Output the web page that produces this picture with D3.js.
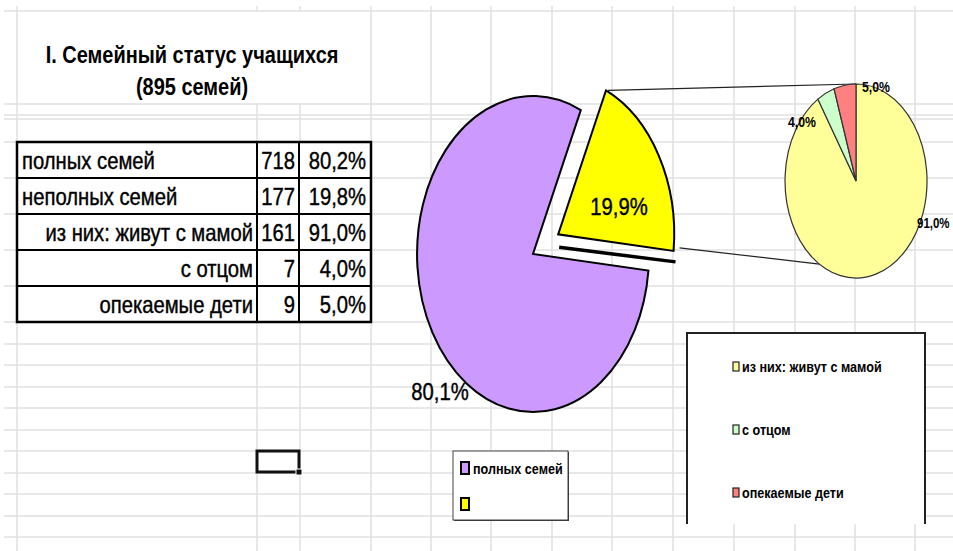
<!DOCTYPE html>
<html>
<head>
<meta charset="utf-8">
<script src="https://cdn.jsdelivr.net/npm/d3@7"></script>
<style>
  body { margin: 0; background: #fff; }
  text { font-family: "Liberation Sans", Arial, sans-serif; fill: #000; }
</style>
</head>
<body>
<div id="chart"></div>
<script>
// table data
var tableLabels = ["полных семей", "неполных семей", "из них: живут с мамой", "с отцом", "опекаемые дети"];
var tableCounts = [718, 177, 161, 7, 9];
var tablePercents = ["80,2%", "19,8%", "91,0%", "4,0%", "5,0%"];

// main pie
var mainCategories = ["полных семей", ""];
var mainValues = [80.1, 19.9];
var mainLabels = ["80,1%", "19,9%"];

// second pie (split of the yellow slice)
var subCategories = ["из них: живут с мамой", "с отцом", "опекаемые дети"];
var subValues = [91.0, 4.0, 5.0];
var subLabels = ["91,0%", "4,0%", "5,0%"];

var W = 953, H = 551;
var svg = d3.select("#chart").append("svg")
    .attr("width", W)
    .attr("height", H);

// narrow text: liberation sans squeezed horizontally (no Arial Narrow here)
function ntext(parent, x, y, str, size, anchor, bold, squeeze) {
    var g = parent.append("g")
        .attr("transform", "translate(" + x + "," + y + ") scale(" + (squeeze || 0.88) + ",1)");
    return g.append("text")
        .attr("text-anchor", anchor || "start")
        .style("font-size", size + "px")
        .style("font-weight", bold ? "bold" : "normal")
        .text(str);
}

// spreadsheet grid
var rowLines = [11, 104, 115, 119, 142, 178, 214, 250, 286, 322, 344, 365, 387, 408, 430, 451, 473, 494, 516, 537];
var colLines = [17, 257, 300, 371, 431, 491, 552, 612, 673, 734, 795, 855, 915];
var grid = svg.append("g").attr("stroke", "#e0e0e0").attr("stroke-width", 1.5);
rowLines.forEach(function (y) {
    grid.append("line").attr("x1", 4).attr("x2", W).attr("y1", y).attr("y2", y);
});
colLines.forEach(function (x) {
    if (x === 257 || x === 300) {
        // merged title cell hides these two
        grid.append("line").attr("x1", x).attr("x2", x).attr("y1", 6).attr("y2", 11);
        grid.append("line").attr("x1", x).attr("x2", x).attr("y1", 104).attr("y2", H);
    } else {
        grid.append("line").attr("x1", x).attr("x2", x).attr("y1", 6).attr("y2", H);
    }
});
svg.append("rect").attr("x", 18).attr("y", 12).attr("width", 352).attr("height", 91).attr("fill", "#fff");

// title
ntext(svg, 192, 63, "I. Семейный статус учащихся", 23.5, "middle", true, 0.85);
ntext(svg, 192, 95, "(895 семей)", 23.5, "middle", true, 0.85);

// table
var tx = [17, 257, 299, 371];
var ty = d3.scaleBand().domain(d3.range(tableLabels.length)).range([142, 322]);
var table = svg.append("g");
table.append("rect").attr("x", 17).attr("y", 142).attr("width", 354).attr("height", 180)
    .attr("fill", "#fff").attr("stroke", "#000").attr("stroke-width", 2.5);
tableLabels.forEach(function (d, i) {
    if (i > 0) {
        table.append("line").attr("x1", 17).attr("x2", 371)
            .attr("y1", ty(i)).attr("y2", ty(i))
            .attr("stroke", "#000").attr("stroke-width", 2);
    }
    var base = ty(i) + 27;
    var leftAlign = i < 2;
    ntext(table, leftAlign ? tx[0] + 5 : tx[1] - 4, base, d, 23, leftAlign ? "start" : "end")
        .attr("stroke", "#000").attr("stroke-width", 0.4);
    ntext(table, tx[2] - 4, base, tableCounts[i], 23, "end")
        .attr("stroke", "#000").attr("stroke-width", 0.4);
    ntext(table, tx[3] - 5, base, tablePercents[i], 23, "end")
        .attr("stroke", "#000").attr("stroke-width", 0.4);
});
[257, 299].forEach(function (x) {
    table.append("line").attr("x1", x).attr("x2", x).attr("y1", 142).attr("y2", 322)
        .attr("stroke", "#000").attr("stroke-width", 2);
});

// selected cell
svg.append("rect").attr("x", 257).attr("y", 451).attr("width", 42).attr("height", 21)
    .attr("fill", "none").attr("stroke", "#111").attr("stroke-width", 3);
svg.append("rect").attr("x", 296).attr("y", 469).attr("width", 6).attr("height", 6).attr("fill", "#111")
    .attr("stroke", "#fff").attr("stroke-width", 1);

// ---- main pie (elliptical) ----
var mainColors = d3.scaleOrdinal().domain(mainCategories).range(["#cc99ff", "#ffff00"]);
var cx = 533, cy = 254, rx = 116, ry = 158;
var deg = Math.PI / 180;
var pieMain = d3.pie().sort(null).value(function (d) { return d; })
    .startAngle(96 * deg).endAngle(456 * deg);
var mainArcs = pieMain(mainValues);
var unitArc = d3.arc().innerRadius(0).outerRadius(1);
var explode = 0.25;

function offsetOf(a, k) {
    var m = (a.startAngle + a.endAngle) / 2;
    return [Math.sin(m) * k, -Math.cos(m) * k];
}
function pt(a, ang, k, r) {
    var o = offsetOf(a, k);
    return [cx + (o[0] + Math.sin(ang) * r) * rx, cy + (o[1] - Math.cos(ang) * r) * ry];
}

var mainG = svg.append("g").attr("transform", "translate(" + cx + "," + cy + ") scale(" + rx + "," + ry + ")");
mainArcs.forEach(function (a, i) {
    var k = i === 1 ? explode : 0;
    var o = offsetOf(a, k);
    mainG.append("path")
        .attr("d", unitArc(a))
        .attr("transform", "translate(" + o[0] + "," + o[1] + ")")
        .attr("fill", mainColors(mainCategories[i]))
        .attr("stroke", "#000")
        .attr("stroke-width", 2)
        .attr("vector-effect", "non-scaling-stroke");
});

var ya = mainArcs[1];
var yBottomApex = pt(ya, 0, explode, 0);
var yBottomEdge = pt(ya, ya.endAngle, explode, 1);
// the dark doubled edge under the exploded slice
svg.append("line")
    .attr("x1", yBottomApex[0] + 1).attr("y1", yBottomApex[1] + 13)
    .attr("x2", yBottomEdge[0] + 2).attr("y2", yBottomEdge[1] + 11)
    .attr("stroke", "#000").attr("stroke-width", 3.5);

// ---- second pie ----
var scx = 856, scy = 181, srx = 71, sry = 97;
var subColors = d3.scaleOrdinal().domain(subCategories).range(["#ffff99", "#ccffcc", "#ff8080"]);
var pieSub = d3.pie().sort(null).value(function (d) { return d; });
var subArcs = pieSub(subValues);

// connector lines
var yTop = pt(ya, ya.startAngle, explode, 1);
var subLow = 211 * deg;
svg.append("line")
    .attr("x1", yTop[0] + 2).attr("y1", yTop[1])
    .attr("x2", scx).attr("y2", scy - sry)
    .attr("stroke", "#222").attr("stroke-width", 1.2);
svg.append("line")
    .attr("x1", yBottomEdge[0] + 6).attr("y1", yBottomEdge[1] - 3)
    .attr("x2", scx + Math.sin(subLow) * srx).attr("y2", scy - Math.cos(subLow) * sry)
    .attr("stroke", "#222").attr("stroke-width", 1.2);

var subG = svg.append("g").attr("transform", "translate(" + scx + "," + scy + ") scale(" + srx + "," + sry + ")");
subArcs.forEach(function (a, i) {
    subG.append("path")
        .attr("d", unitArc(a))
        .attr("fill", subColors(subCategories[i]))
        .attr("stroke", "#333")
        .attr("stroke-width", 1.2)
        .attr("vector-effect", "non-scaling-stroke");
});

// labels
ntext(svg, cx - 93, cy + 146, mainLabels[0], 23, "middle")
    .attr("stroke", "#000").attr("stroke-width", 0.4);
ntext(svg, cx + 86, cy - 39, mainLabels[1], 23, "middle")
    .attr("stroke", "#000").attr("stroke-width", 0.4);

var subLabelPos = [[917, 228], [788, 127], [862, 92]];
var subLabelSize = [14, 15, 15];
subLabels.forEach(function (d, i) {
    ntext(svg, subLabelPos[i][0], subLabelPos[i][1], d, subLabelSize[i], "start", true, 0.82);
});

// main legend
var leg1 = svg.append("g");
leg1.append("rect").attr("x", 454).attr("y", 452).attr("width", 115).attr("height", 69)
    .attr("fill", "#333");
leg1.append("rect").attr("x", 453).attr("y", 451).attr("width", 115).attr("height", 69)
    .attr("fill", "#fff").attr("stroke", "#444").attr("stroke-width", 1);
mainCategories.forEach(function (c, i) {
    var y = 462 + i * 36;
    leg1.append("rect").attr("x", 461).attr("y", y).attr("width", 8).attr("height", 12)
        .attr("fill", mainColors(c)).attr("stroke", "#000").attr("stroke-width", 2);
    ntext(leg1, 473, y + 12, c, 15, "start", true, 0.84);
});

// second legend (bottom edge cut off)
var leg2 = svg.append("g");
leg2.append("rect").attr("x", 687).attr("y", 333).attr("width", 238).attr("height", 191).attr("fill", "#fff");
leg2.append("path").attr("d", "M687,524V333H925V524")
    .attr("fill", "none").attr("stroke", "#222").attr("stroke-width", 2);
subCategories.forEach(function (c, i) {
    var y = 362 + i * 63;
    leg2.append("rect").attr("x", 733).attr("y", y).attr("width", 6).attr("height", 9)
        .attr("fill", subColors(c)).attr("stroke", "#222").attr("stroke-width", 1.2);
    ntext(leg2, 742, y + 10, c, 15, "start", true, 0.84);
});
</script>
</body>
</html>
